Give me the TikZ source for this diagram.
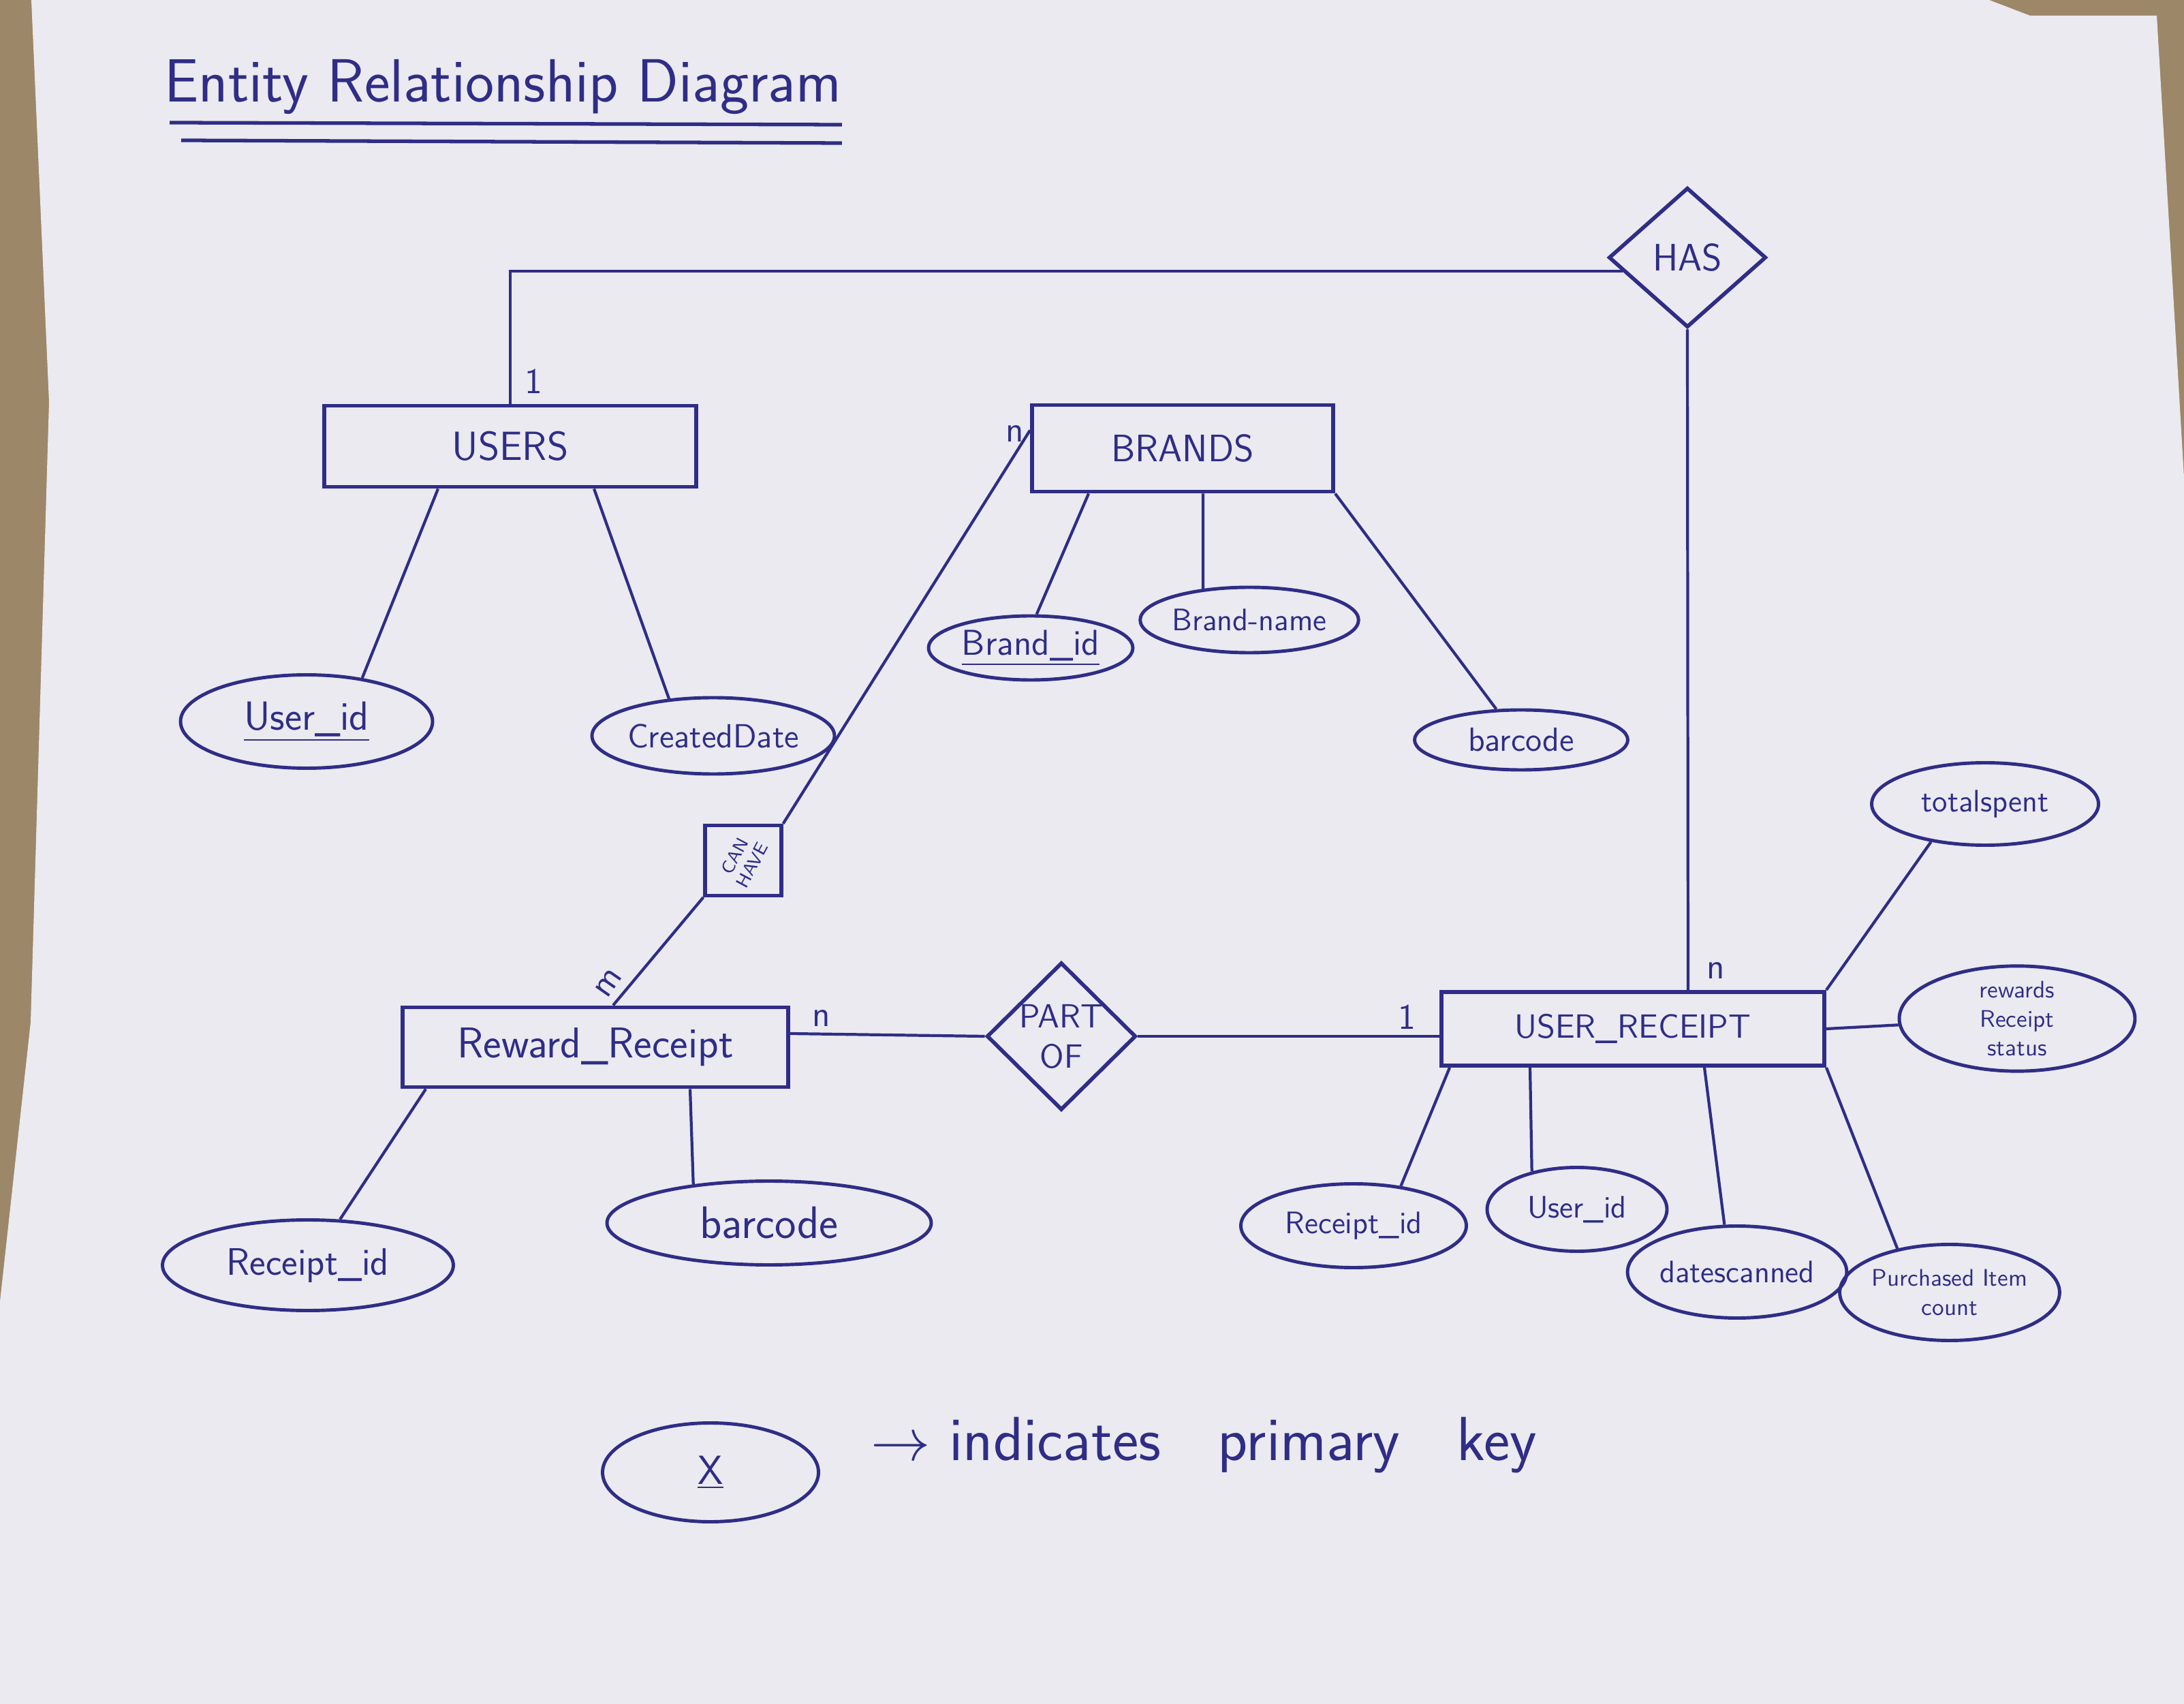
\documentclass[tikz,border=0pt]{standalone}
\usepackage{tikz}
\usetikzlibrary{shapes.geometric}

\definecolor{ink}{HTML}{2F2D85}
\definecolor{paper}{HTML}{EAEAF0}
\definecolor{desk}{HTML}{9C8769}
\newcommand{\handsize}[1]{\fontsize{#1}{\fpeval{1.2*#1}}\selectfont\sffamily}

\begin{document}
\begin{tikzpicture}[
    link/.style={draw=ink, line width=1.2pt},
    entity/.style={draw=ink, line width=1.7pt, rectangle, inner sep=0pt, text=ink, font=\handsize{17}},
    relation/.style={draw=ink, line width=1.6pt, diamond, inner sep=0pt, text=ink, align=center, font=\handsize{14}},
    relbox/.style={draw=ink, line width=1.5pt, rectangle, inner sep=0pt, text=ink, font=\handsize{7.5}},
    attr/.style={draw=ink, line width=1.4pt, ellipse, inner sep=0pt, text=ink, align=center, font=\handsize{14}},
    card/.style={text=ink, inner sep=0pt, font=\handsize{15}}]
  \useasboundingbox (0,0) rectangle (32.06,-25.01);
  \fill[desk] (0,0) rectangle (32.06,-25.01);
  \fill[paper] (0.46,0) -- (29.2,0) -- (29.8,-0.23) -- (31.66,-0.23) -- (32.06,-7.0)
    -- (32.06,-25.01) -- (0,-25.01) -- (0,-19.1) -- (0.45,-15.0) -- (0.72,-5.9) -- cycle;

  \node[text=ink, inner sep=0pt, font=\handsize{25.5}, anchor=base west] (title) at (2.41,-1.50) {Entity Relationship Diagram};
  \draw[link, line width=1.5pt] ([xshift=0.08cm, yshift=-0.30cm]title.base west) -- ([yshift=-0.33cm]title.base east);
  \draw[link, line width=1.5pt] ([xshift=0.25cm, yshift=-0.56cm]title.base west) -- ([yshift=-0.60cm]title.base east);

  \node[entity, minimum width=5.46cm, minimum height=1.19cm] (users) at (7.49,-6.55) {USERS};
  \node[entity, minimum width=4.42cm, minimum height=1.27cm, font=\handsize{16}] (brands) at (17.36,-6.58) {BRANDS};
  \node[entity, minimum width=5.66cm, minimum height=1.17cm, font=\handsize{18}] (rreceipt) at (8.74,-15.37) {Reward\_Receipt};
  \node[entity, minimum width=5.62cm, minimum height=1.08cm, font=\handsize{14}] (ureceipt) at (23.97,-15.10) {USER\_RECEIPT};

  \node[relation, minimum width=2.31cm, minimum height=2.05cm, font=\handsize{16}] (has) at (24.77,-3.78) {HAS};
  \node[relation, minimum width=2.19cm, minimum height=2.05cm] (partof) at (15.58,-15.21) {PART\\OF};
  \node[relbox, minimum width=1.12cm, minimum height=1.03cm] (canhave) at (10.91,-12.63) {\rotatebox{62}{\shortstack{CAN\\HAVE}}};

  \draw[link] (has.192) -- (has.192 -| users.north) -- (users.north);
  \draw[link] (has.south) -- ([xshift=0.81cm]ureceipt.north);
  \draw[link] ([yshift=-0.40cm]brands.north west) -- (canhave.north east);
  \draw[link] (canhave.south west) -- ([xshift=0.26cm]rreceipt.north);
  \draw[link] ([yshift=0.20cm]rreceipt.east) -- (partof.west);
  \draw[link] (partof.east) -- (partof.east -| ureceipt.west);

  \node[card] (users1) at (7.83,-5.60) {1};
  \node[card] (brandsn) at (14.90,-6.37) {n};
  \node[card, rotate=55] (rrm) at (8.93,-14.43) {m};
  \node[card] (rrn) at (12.06,-14.95) {n};
  \node[card] (ur1) at (20.65,-14.93) {1};
  \node[card] (urn) at (25.19,-14.25) {n};

  \node[attr, minimum width=3.70cm, minimum height=1.37cm, font=\handsize{17}] (uid) at (4.50,-10.59) {\underline{User\_id}};
  \node[attr, minimum width=3.30cm, minimum height=1.12cm] (ucreated) at (10.47,-10.80) {CreatedDate};
  \node[attr, minimum width=3.00cm, minimum height=0.94cm, font=\handsize{15}] (bid) at (15.13,-9.51) {\underline{Brand\_id}};
  \node[attr, minimum width=3.05cm, minimum height=0.96cm, font=\handsize{13}] (bname) at (18.34,-9.10) {Brand-name};
  \node[attr, minimum width=3.13cm, minimum height=0.88cm] (bbarcode) at (22.33,-10.86) {barcode};
  \node[attr, minimum width=4.27cm, minimum height=1.33cm, font=\handsize{16}] (rrid) at (4.52,-18.57) {Receipt\_id};
  \node[attr, minimum width=4.76cm, minimum height=1.23cm, font=\handsize{19}] (rrbarcode) at (11.29,-17.95) {barcode};
  \node[attr, minimum width=3.31cm, minimum height=1.23cm, font=\handsize{13}] (urrid) at (19.87,-17.99) {Receipt\_id};
  \node[attr, minimum width=2.64cm, minimum height=1.23cm, font=\handsize{13}] (uruid) at (23.15,-17.75) {User\_id};
  \node[attr, minimum width=3.07cm, minimum height=1.35cm, font=\handsize{13}] (urdate) at (25.50,-18.67) {datescanned};
  \node[attr, minimum width=2.90cm, minimum height=1.41cm, font=\handsize{10}] (uritem) at (28.62,-18.97) {Purchased Item\\count};
  \node[attr, minimum width=3.33cm, minimum height=1.21cm, font=\handsize{13}] (urtotal) at (29.14,-11.80) {totalspent};
  \node[attr, minimum width=3.46cm, minimum height=1.49cm, font=\handsize{10}] (urstatus) at (29.61,-14.95) {rewards\\Receipt\\status};

  \draw[link] ([xshift=1.70cm]users.south west) -- (uid.38);
  \draw[link] ([xshift=3.99cm]users.south west) -- (ucreated.140);
  \draw[link] ([xshift=0.86cm]brands.south west) -- (bid.80);
  \draw[link] ([xshift=2.54cm]brands.south west) -- (bname.146);
  \draw[link] (brands.south east) -- (bbarcode.129);
  \draw[link] ([xshift=0.37cm]rreceipt.south west) -- (rrid.55);
  \draw[link] ([xshift=4.25cm]rreceipt.south west) -- (rrbarcode.153);
  \draw[link] ([xshift=0.15cm]ureceipt.south west) -- (urrid.40);
  \draw[link] ([xshift=1.33cm]ureceipt.south west) -- (uruid.140);
  \draw[link] ([xshift=3.89cm]ureceipt.south west) -- (urdate.105);
  \draw[link] (ureceipt.south east) -- (uritem.140);
  \draw[link] (ureceipt.north east) -- (urtotal.215);
  \draw[link] (ureceipt.east) -- (urstatus);

  \node[attr, minimum width=3.17cm, minimum height=1.45cm, font=\handsize{17}] (key) at (10.43,-21.61) {\underline{X}};
  \node[card, font=\handsize{26}, anchor=base west] (keytext) at (12.78,-21.43)
    {$\rightarrow$\hspace{0.3em}indicates\hspace{0.55cm} primary\hspace{0.55cm} key};
\end{tikzpicture}
\end{document}
